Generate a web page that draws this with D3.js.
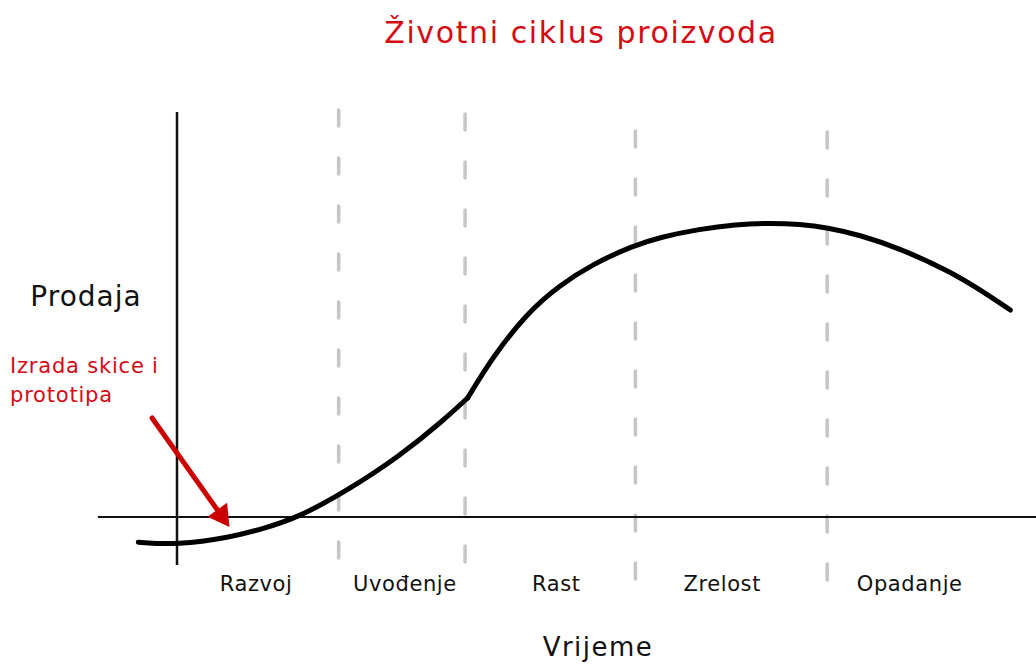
<!DOCTYPE html>
<html>
<head>
<meta charset="utf-8">
<script src="https://cdn.jsdelivr.net/npm/d3@7"></script>
<style>
  html, body { margin: 0; padding: 0; background: #fff; }
  svg { display: block; }
  text { font-family: "DejaVu Sans", "Noto Sans", sans-serif; }
</style>
</head>
<body>
<svg id="chart" width="1036" height="666"></svg>
<script>
// ---- data (time units 0..100, sales units; 0 = x axis) ----
const title = "Životni ciklus proizvoda";
const xTitle = "Vrijeme";
const yTitle = "Prodaja";
const annotationLines = ["Izrada skice i", "prototipa"];

const stageNames = ["Razvoj", "Uvođenje", "Rast", "Zrelost", "Opadanje"];
const stageLabelAt = [9.2, 26.5, 44.1, 63.4, 85.2];        // label centres in time units
const stageBounds = [18.8, 33.5, 53.3, 75.6];               // stage edges in time units
const dividerTops = [135.7, 134.3, 128.7, 128.3];          // where each dashed line starts (sales units)

// development + introduction (up to the kink)
const curveEarly = [
  {t: -4.5, s: -8.4}, {t: 0, s: -9.3}, {t: 6.2, s: -6.8}, {t: 10.0, s: -3.9},
  {t: 14.0, s: -0.3}, {t: 19.8, s: 8.8}, {t: 25.9, s: 20.3}, {t: 30.9, s: 32.0},
  {t: 33.8, s: 39.7}
];
// growth, maturity, decline
const curveLate = [
  {t: 33.8, s: 39.7}, {t: 36.7, s: 53.3}, {t: 40.7, s: 68.0}, {t: 44.5, s: 77.3},
  {t: 48.4, s: 84.4}, {t: 53.0, s: 90.4}, {t: 56.2, s: 93.3}, {t: 60.8, s: 96.0},
  {t: 64.9, s: 97.5}, {t: 69.0, s: 98.0}, {t: 72.4, s: 97.6}, {t: 75.6, s: 96.5},
  {t: 79.4, s: 94.0}, {t: 84.1, s: 89.5}, {t: 89.9, s: 81.8}, {t: 93.4, s: 75.7},
  {t: 96.9, s: 69.0}
];
const arrowFrom = {t: -2.9, s: 33.0};
const arrowTo = {t: 6.1, s: -3.3};

// ---- scales ----
const svg = d3.select("#chart");
const x = d3.scaleLinear().domain([0, 100]).range([177, 1037]);
const y = d3.scaleLinear().domain([0, 100]).range([517, 217]);

// dashed stage dividers
svg.selectAll("line.divider").data(stageBounds).join("line")
  .attr("class", "divider")
  .attr("x1", d => x(d)).attr("x2", d => x(d))
  .attr("y1", (d, i) => y(dividerTops[i]))
  .attr("y2", y(-21))
  .attr("stroke", "#c6c6c6").attr("stroke-width", 3.5)
  .attr("stroke-linecap", "round")
  .attr("stroke-dasharray", "16 32");

// axes
svg.append("line")
  .attr("x1", x(-9.2)).attr("x2", x(100)).attr("y1", y(0)).attr("y2", y(0))
  .attr("stroke", "#111").attr("stroke-width", 2);
svg.append("line")
  .attr("x1", x(0)).attr("x2", x(0)).attr("y1", y(135)).attr("y2", y(-16))
  .attr("stroke", "#111").attr("stroke-width", 2.5);

// lifecycle curve
const line = d3.line().x(d => x(d.t)).y(d => y(d.s)).curve(d3.curveBasis);
[curveEarly, curveLate].forEach(seg => {
  svg.append("path").attr("d", line(seg))
    .attr("fill", "none").attr("stroke", "#000")
    .attr("stroke-width", 5).attr("stroke-linecap", "round")
    .attr("stroke-linejoin", "round");
});

// arrow
const ax1 = x(arrowFrom.t), ay1 = y(arrowFrom.s), ax2 = x(arrowTo.t), ay2 = y(arrowTo.s);
const ang = Math.atan2(ay2 - ay1, ax2 - ax1);
const headLen = 21, headW = 12;
const bx = ax2 - headLen * Math.cos(ang), by = ay2 - headLen * Math.sin(ang);
svg.append("line")
  .attr("x1", ax1).attr("y1", ay1).attr("x2", bx + 2 * Math.cos(ang)).attr("y2", by + 2 * Math.sin(ang))
  .attr("stroke", "#cc0000").attr("stroke-width", 5).attr("stroke-linecap", "round");
svg.append("path")
  .attr("d", d3.line()([
    [ax2, ay2],
    [bx + headW * Math.sin(ang), by - headW * Math.cos(ang)],
    [bx - headW * Math.sin(ang), by + headW * Math.cos(ang)]
  ]) + "Z")
  .attr("fill", "#cc0000");

// stage labels
svg.selectAll("text.stage").data(stageNames).join("text")
  .attr("class", "stage")
  .attr("x", (d, i) => x(stageLabelAt[i]))
  .attr("y", 591)
  .attr("text-anchor", "middle")
  .attr("font-size", 21).attr("letter-spacing", 0.6)
  .attr("fill", "#111")
  .text(d => d);

// titles
svg.append("text").attr("x", 581).attr("y", 43).attr("text-anchor", "middle")
  .attr("font-size", 30).attr("letter-spacing", 1.6).attr("fill", "#d40b14").text(title);
svg.append("text").attr("x", 598).attr("y", 656).attr("text-anchor", "middle")
  .attr("font-size", 26).attr("letter-spacing", 1.5).attr("fill", "#111").text(xTitle);
svg.append("text").attr("x", 86).attr("y", 306).attr("text-anchor", "middle")
  .attr("font-size", 28).attr("letter-spacing", 1).attr("fill", "#111").text(yTitle);

// annotation
svg.selectAll("text.note").data(annotationLines).join("text")
  .attr("class", "note")
  .attr("x", 10).attr("y", (d, i) => 373 + i * 29)
  .attr("font-size", 21).attr("letter-spacing", 0.8).attr("fill", "#d40b14")
  .text(d => d);
</script>
</body>
</html>
